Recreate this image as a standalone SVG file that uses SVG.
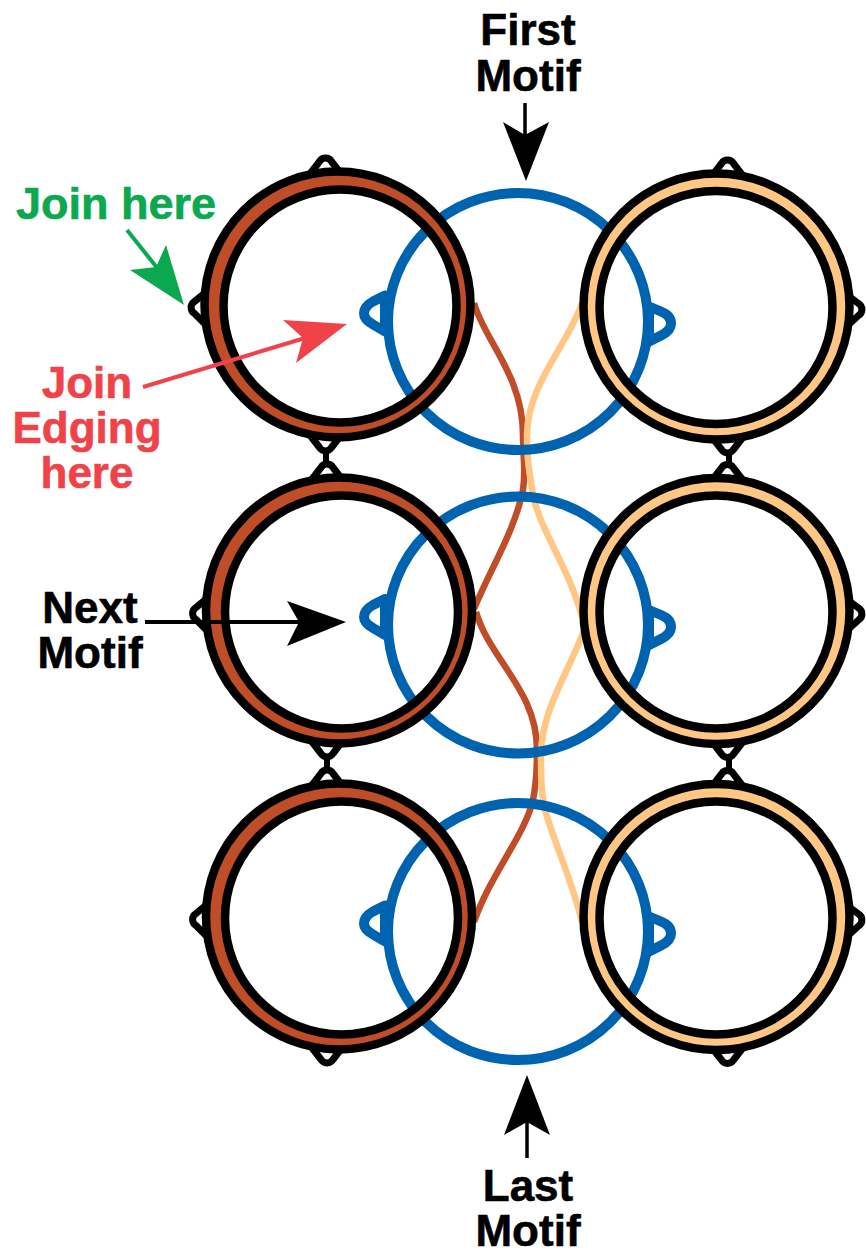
<svg xmlns="http://www.w3.org/2000/svg" width="866" height="1253" viewBox="0 0 866 1253">
<style>
.t{font-family:"Liberation Sans",Arial,sans-serif;font-weight:700;font-size:44px;text-anchor:middle;stroke-width:.6;fill:#000;stroke:#000}
.g{fill:#0BA84F;stroke:#0BA84F;font-size:45px}
.r{fill:#EF4349;stroke:#EF4349}
.blue{fill:none;stroke:#0063AF;stroke-width:10}
.bp{fill:#fff;stroke:#0063AF;stroke-width:10;stroke-linejoin:round}
.k{fill:none;stroke:#000;stroke-width:8.500}
.br{fill:none;stroke:#BF4D28;stroke-width:16}
.tn{fill:none;stroke:#FFC684;stroke-width:16}
.ps{fill:#fff;stroke:#000;stroke-width:7;stroke-linejoin:round}
.sb{fill:none;stroke:#BF4D28;stroke-width:6.500}
.st{fill:none;stroke:#FFC684;stroke-width:6.500}
.lk{stroke:#000;stroke-width:6}
</style>
<defs>
<g id="lring">
<path class="ps" d="M-28-130L-18-143A7 7 0 0 1-6-143L4-130Z"/>
<path class="ps" d="M-132-12L-143-3A7 7 0 0 0-143 9L-132 20Z"/>
<path class="ps" d="M-28 130L-18 143A7 7 0 0 0-6 143L4 130Z"/>
<circle class="br" cx="1.250" cy="0.750" r="125"/>
<circle class="k" r="133"/>
<circle class="k" cx="2.500" cy="1.500" r="116.500"/>
</g>
<g id="rring">
<path class="ps" d="M-5-130L5-143A7 7 0 0 1 17-143L27-130Z"/>
<path class="ps" d="M130-12L142-3A7 7 0 0 1 142 9L130 20Z"/>
<path class="ps" d="M-5 130L5 143A7 7 0 0 0 17 143L27 130Z"/>
<circle class="tn" cx="0" cy="0.500" r="125"/>
<circle class="k" r="133"/>
<circle class="k" cx="-0.500" cy="1" r="116.500"/>
</g>
<g id="motif">
<path class="bp" d="M-133-26L-145-20Q-154-15-154-8Q-154-2-145 3L-133 10Z"/>
<path class="bp" d="M131-15L143-10Q153-6 153 2Q153 9 143 14L131 20Z"/>
<ellipse class="blue" rx="130" ry="128.500"/>
</g>
</defs>
<g id="connectors">
<path class="sb" d="M474 303C484 340 523 375 523 435C523 460 526 470 523 490C515 530 490 570 474 609"/>
<path class="sb" d="M476 612C490 660 537 690 537 750C537 775 536 785 533 800C525 835 490 875 474 922"/>
<path class="st" d="M582 303C568 345 527 385 527 435C527 460 529 470 533 495C540 530 570 570 582 617"/>
<path class="st" d="M584 630C570 670 541 710 541 755C541 780 541 790 545 810C555 845 572 880 582 922"/>
<line class="lk" x1="326" y1="450" x2="326" y2="480"/>
<line class="lk" x1="327" y1="756" x2="327" y2="786"/>
<line class="lk" x1="729" y1="450" x2="729" y2="480"/>
<line class="lk" x1="729" y1="756" x2="729" y2="786"/>
</g>
<g id="motif-1"><use href="#motif" x="518" y="321.500"/></g>
<g id="motif-2"><use href="#motif" x="518" y="625"/></g>
<g id="motif-3"><use href="#motif" x="518" y="931.500"/></g>
<g id="left-1"><use href="#lring" x="337.500" y="304.500"/></g>
<g id="left-2"><use href="#lring" x="339" y="610.500"/></g>
<g id="left-3"><use href="#lring" x="339" y="916.500"/></g>
<g id="right-1"><use href="#rring" x="716.500" y="306.500"/></g>
<g id="right-2"><use href="#rring" x="716.500" y="611"/></g>
<g id="right-3"><use href="#rring" x="716.500" y="917"/></g>
<g id="arrows">
<line x1="127" y1="230" x2="158" y2="269" stroke="#0BA84F" stroke-width="4"/>
<polygon fill="#0BA84F" points="184,305 130,270 156,267 166,245"/>
<line x1="143" y1="387" x2="305" y2="338" stroke="#EF4349" stroke-width="4"/>
<polygon fill="#EF4349" points="347,324 283,320 303,338 296,363"/>
<line x1="145" y1="622" x2="302" y2="622" stroke="#000" stroke-width="4"/>
<polygon fill="#000" points="346,622 287,601 299,622 287,646"/>
<line x1="525" y1="103" x2="525" y2="137" stroke="#000" stroke-width="3.500"/>
<polygon fill="#000" points="526,181 503,122 525,135 549,122"/>
<line x1="527" y1="1120" x2="527" y2="1158" stroke="#000" stroke-width="3.500"/>
<polygon fill="#000" points="527,1075 504,1135 527,1122 550,1135"/>
</g>
<g id="labels">
<text class="t" x="528" y="45">First</text>
<text class="t" x="528" y="91">Motif</text>
<text class="t" x="528" y="1201">Last</text>
<text class="t" x="528" y="1246">Motif</text>
<text class="t g" x="116" y="219">Join here</text>
<text class="t r" x="87" y="398">Join</text>
<text class="t r" x="87" y="443">Edging</text>
<text class="t r" x="87" y="488">here</text>
<text class="t" x="90" y="623">Next</text>
<text class="t" x="90" y="668">Motif</text>
</g>
</svg>
